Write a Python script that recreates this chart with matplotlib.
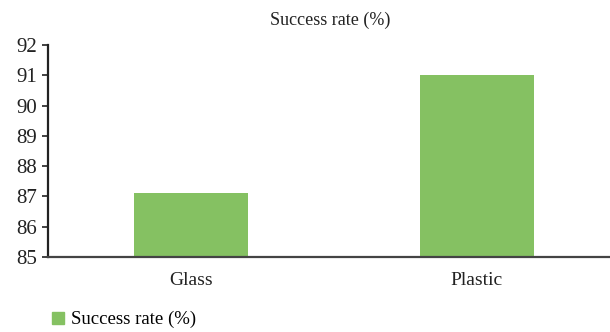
import matplotlib
matplotlib.use("Agg")
import matplotlib.pyplot as plt
from matplotlib.patches import Patch

categories = ["Glass", "Plastic"]
success_rate = [87.1, 91.0]
yticks = [85, 86, 87, 88, 89, 90, 91, 92]

plt.rcParams['font.family'] = ['Liberation Serif', 'DejaVu Serif']

fig = plt.figure(figsize=(6.10, 3.32), dpi=100)
ax = fig.add_axes([0.0787, 0.226, 0.9213, 0.6385])

green = "#85c162"
ax.bar(range(len(categories)), success_rate, width=0.40, color=green, bottom=0)
ax.set_ylim(85, 92)
ax.set_xlim(-0.5, 1.465)
ax.set_yticks(yticks)
ax.set_xticks(range(len(categories)))
ax.set_xticklabels(categories, fontsize=14, color="#222222")
ax.tick_params(axis="y", labelsize=15, length=4, width=1.2, colors="#222222", pad=4)
ax.tick_params(axis="x", length=0, pad=11)

for s in ["top", "right"]:
    ax.spines[s].set_visible(False)
ax.spines["left"].set_linewidth(1.6)
ax.spines["left"].set_color("#222222")
ax.spines["bottom"].set_linewidth(1.6)
ax.spines["bottom"].set_color("#444444")

fig.text(0.541, 0.94, "Success rate (%)", ha="center", va="center", fontsize=13, color="#222222")

handles = [Patch(color=green, label="Success rate (%)")]
fig.legend(handles=handles, loc="lower left", bbox_to_anchor=(0.058, -0.04), frameon=False,
           fontsize=13.5, handlelength=0.6, handleheight=0.6, handletextpad=0.4)

fig.savefig("out.png", dpi=100)
